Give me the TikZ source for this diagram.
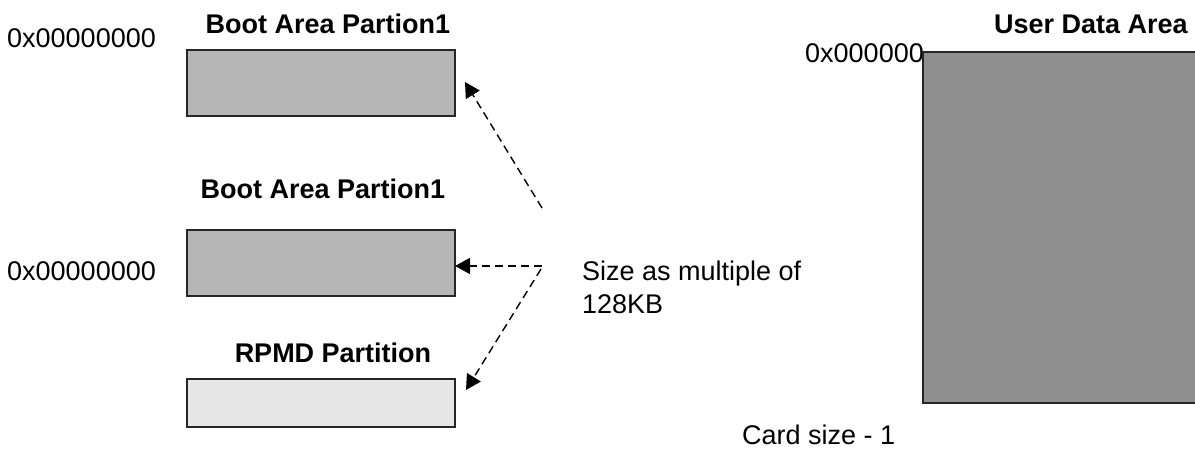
\documentclass[tikz,border=0pt]{standalone}
\usepackage{fontspec}
\setmainfont{Liberation Sans}
\usetikzlibrary{arrows.meta}
\definecolor{bootgray}{HTML}{B6B6B6}
\definecolor{rpmdgray}{HTML}{E6E6E6}
\definecolor{usergray}{HTML}{8F8F8F}
\tikzset{
  lbl/.style={font=\fontsize{27}{33}\selectfont, inner sep=0pt, anchor=base west},
  ttl/.style={font=\fontsize{27}{33}\selectfont\bfseries, inner sep=0pt, anchor=base},
  part/.style={draw=black!85, line width=1.8pt},
  dasharrow/.style={line width=1.4pt, dash pattern=on 8pt off 5pt, -{Triangle[length=15pt,width=16pt]}},
}
\begin{document}
\begin{tikzpicture}[x=1pt,y=-1pt]
\useasboundingbox (0,0) rectangle (1195,448);
% titles
\node[ttl] (t1) at (328,33) {Boot Area Partion1};
\node[ttl] (t2) at (323,198) {Boot Area Partion1};
\node[ttl] (t3) at (333,362) {RPMD Partition};
\node[ttl] (t4) at (1091,33) {User Data Area};
% address labels
\node[lbl] (a1) at (7,47) {0x00000000};
\node[lbl] (a2) at (7,280) {0x00000000};
\begin{scope}
\clip (780,30) rectangle (923,80);
\node[lbl] (a4) at (805,62) {0x00000000};
\end{scope}
% boxes
\draw[part, fill=bootgray] (187,50) rectangle (455,116);
\node[inner sep=0pt, minimum width=268pt, minimum height=66pt] (b1) at (321,83) {};
\draw[part, fill=bootgray] (187,230) rectangle (455,296);
\node[inner sep=0pt, minimum width=268pt, minimum height=66pt] (b2) at (321,263) {};
\draw[part, fill=rpmdgray] (187,379) rectangle (455,427);
\node[inner sep=0pt, minimum width=268pt, minimum height=48pt] (b3) at (321,403) {};
\draw[part, fill=usergray] (923,52) rectangle (1215,403);
\node[inner sep=0pt, minimum width=292pt, minimum height=351pt] (ud) at (1069,227.5) {};
% size label
\node[lbl, align=left] (sz) at (582,313) {Size as multiple of\\128KB};
\node[lbl] (cs) at (742,444) {Card size - 1};
% arrows
\coordinate (s1) at (542,208);
\coordinate (s2) at (542,266);
\coordinate (s3) at (541,269);
\coordinate (e1) at (465,82);
\coordinate (e2) at (455,266);
\coordinate (e3) at (466,390);
\draw[dasharrow] (s1) -- (e1);
\draw[dasharrow] (s2) -- (e2);
\draw[dasharrow] (s3) -- (e3);
\end{tikzpicture}
\end{document}
